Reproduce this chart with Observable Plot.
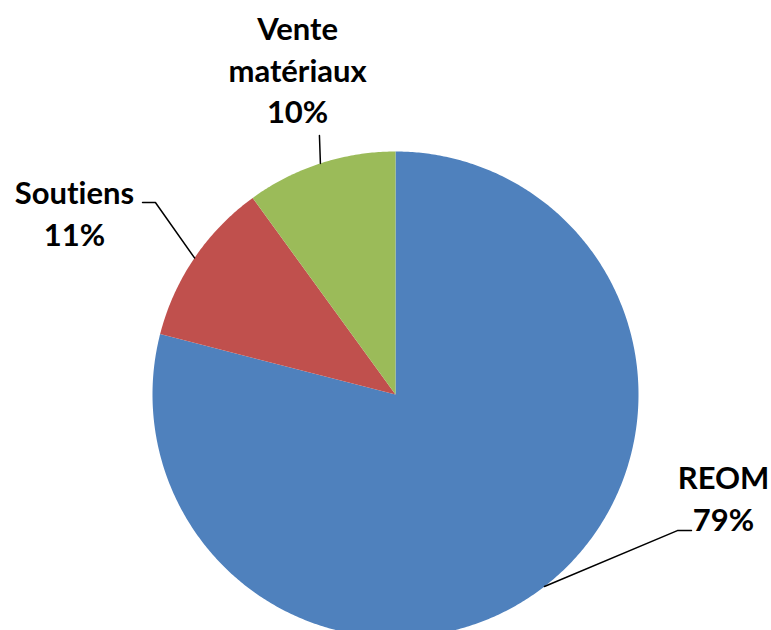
<!DOCTYPE html>
<html>
<head>
<meta charset="utf-8">
<script src="https://cdn.jsdelivr.net/npm/d3@7"></script>
<script src="https://cdn.jsdelivr.net/npm/@observablehq/plot@0.6"></script>
<style>
  html, body { margin: 0; padding: 0; background: #fff; overflow: hidden; }
  #chart svg { display: block; }
  #chart text { font-variant-ligatures: none; font-feature-settings: "liga" 0; }
</style>
</head>
<body>
<div id="chart"></div>
<script>
// ---- data ----
const categories = ["REOM", "Soutiens", "Vente matériaux"];
const labelNames = ["REOM", "Soutiens", "Vente\nmatériaux"];
const values = [79, 11, 10];

// ---- styles / layout ----
const colors = ["#4F81BD", "#C0504D", "#9BBB59"];
const W = 771, H = 630;
const cx = 395, cy = 394, R = 243;
// label layout, in units of the pie radius (x right, y up)
const labelPos = [
  {x: 1.350, y: -0.268},
  {x: -1.321, y: 0.905},
  {x: -0.403, y: 1.580}
];
const leaderElbow = [
  [{x: 1.160, y: -0.560}, {x: 1.218, y: -0.560}],
  [{x: -0.988, y: 0.790}, {x: -1.041, y: 0.790}],
  [{x: -0.313, y: 1.066}]
];

const total = d3.sum(values);
let acc = 0;
const slices = categories.map((c, i) => {
  const a0 = acc / total * 2 * Math.PI;
  acc += values[i];
  const a1 = acc / total * 2 * Math.PI;
  return {c, i, a0, a1, mid: (a0 + a1) / 2};
});

const pts = slices.flatMap(s => {
  const n = Math.max(2, Math.ceil((s.a1 - s.a0) / (Math.PI / 360)));
  const arr = [{c: s.c, x: 0, y: 0}];
  for (let k = 0; k <= n; k++) {
    const a = s.a0 + (s.a1 - s.a0) * k / n;
    arr.push({c: s.c, x: Math.sin(a), y: Math.cos(a)});
  }
  return arr;
});

const leaders = slices.flatMap(s => {
  const arr = [{c: s.c, x: Math.sin(s.mid), y: Math.cos(s.mid)}];
  for (const p of leaderElbow[s.i]) arr.push({c: s.c, x: p.x, y: p.y});
  return arr;
});

const labels = slices.map(s => ({
  c: s.c,
  x: labelPos[s.i].x,
  y: labelPos[s.i].y,
  text: labelNames[s.i] + "\n" + Math.round(values[s.i] / total * 100) + "%"
}));

const chart = Plot.plot({
  width: W,
  height: H,
  margin: 0,
  style: {background: "#fff", overflow: "hidden"},
  x: {domain: [-1, 1], range: [cx - R, cx + R], axis: null},
  y: {domain: [-1, 1], range: [cy + R, cy - R], axis: null},
  color: {domain: categories, range: colors},
  marks: [
    Plot.line(pts, {x: "x", y: "y", z: "c", fill: "c", stroke: "none", curve: "linear-closed"}),
    Plot.line(leaders, {x: "x", y: "y", z: "c", stroke: "#000", strokeWidth: 1.5, fill: "none"}),
    Plot.text(labels, {
      x: "x", y: "y", text: "text",
      textAnchor: "middle", lineAnchor: "top", lineHeight: 1.34,
      fontSize: 31, fontWeight: "bold", fontFamily: "Lato", fill: "#000"
    })
  ]
});
document.getElementById("chart").appendChild(chart);
</script>
</body>
</html>
